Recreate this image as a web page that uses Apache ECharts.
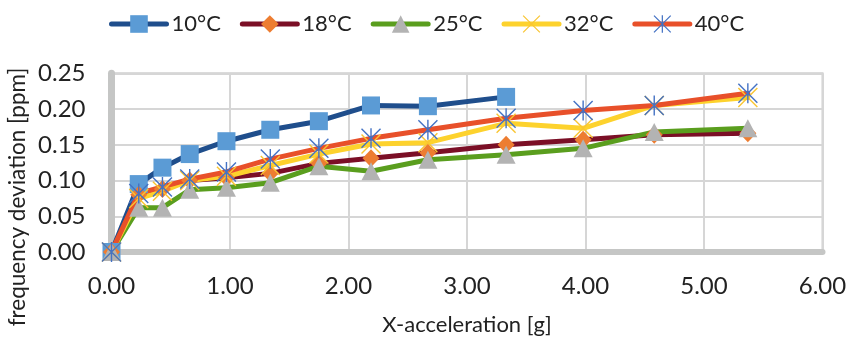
<!DOCTYPE html>
<html lang="en">
<head>
    <meta charset="UTF-8">
    <title>frequency deviation vs X-acceleration</title>
</head>
<body style="margin:0">
<div id="main" style="width:852px;height:341px;"></div>
<script src="https://cdn.jsdelivr.net/npm/echarts@6.0.0/dist/echarts.min.js"></script>
<script>
    // acceleration steps [g], shared by all temperatures
    var xData = [0, 0.23, 0.43, 0.66, 0.97, 1.34, 1.75, 2.19, 2.67, 3.33, 3.98, 4.58, 5.37];

    var names = ['10°C', '18°C', '25°C', '32°C', '40°C'];
    var y10 = [0, 0.095, 0.118, 0.137, 0.155, 0.171, 0.183, 0.205, 0.204, 0.217];
    var y18 = [0, 0.080, 0.088, 0.100, 0.104, 0.110, 0.124, 0.131, 0.139, 0.150, 0.157, 0.164, 0.166];
    var y25 = [0, 0.062, 0.062, 0.087, 0.090, 0.097, 0.120, 0.113, 0.129, 0.136, 0.145, 0.168, 0.173];
    var y32 = [0, 0.075, 0.085, 0.100, 0.106, 0.121, 0.137, 0.151, 0.153, 0.180, 0.173, 0.205, 0.216];
    var y40 = [0, 0.082, 0.091, 0.102, 0.112, 0.130, 0.145, 0.159, 0.171, 0.187, 0.198, 0.205, 0.222];

    var FONT = 'Lato';

    // excel style star (*) and cross (x) markers as thin filled bars
    var starPath = 'path://M9.3 0H10.7V20H9.3Z M0 1L1 0L20 19L19 20Z M19 0L20 1L1 20L0 19Z';
    var crossPath = 'path://M0 1L1 0L20 19L19 20Z M19 0L20 1L1 20L0 19Z';

    function pairs(ys) {
        var out = [];
        for (var i = 0; i < ys.length; i++) {
            out.push([xData[i], ys[i]]);
        }
        return out;
    }

    function makeSeries(name, ys, lineColor, symbol, size, markColor) {
        return {
            name: name,
            type: 'line',
            data: pairs(ys),
            symbol: symbol,
            symbolSize: size,
            showAllSymbol: true,
            lineStyle: {color: lineColor, width: 5, join: 'round', cap: 'round'},
            itemStyle: {color: markColor, borderWidth: 0},
            emphasis: {disabled: true}
        };
    }

    var chart = echarts.init(document.getElementById('main'));
    var option = {
        animation: false,
        textStyle: {fontFamily: FONT},
        legend: {
            top: 8,
            left: 104,
            itemWidth: 55,
            itemHeight: 22,
            itemGap: 19,
            lineStyle: {width: 5, cap: 'round'},
            textStyle: {fontSize: 22, color: '#222', fontFamily: FONT},
            data: names
        },
        grid: {
            left: 111.5,
            right: 29.5,
            top: 73.3,
            bottom: 89,
            outerBoundsMode: 'none',
            containLabel: false,
            show: true,
            borderColor: '#cfcfcf',
            borderWidth: 2
        },
        xAxis: {
            type: 'value',
            min: 0,
            max: 6,
            interval: 1,
            name: 'X-acceleration [g]',
            nameLocation: 'middle',
            nameGap: 62,
            nameTextStyle: {fontSize: 22, color: '#222', fontFamily: FONT},
            axisLine: {lineStyle: {color: '#c5c6c5', width: 6}},
            axisTick: {show: false},
            axisLabel: {
                fontSize: 24, color: '#222', margin: 22,
                formatter: function (v) { return v.toFixed(2); }
            },
            splitLine: {lineStyle: {color: '#d6d6d6', width: 2}}
        },
        yAxis: {
            type: 'value',
            min: 0,
            max: 0.25,
            interval: 0.05,
            axisLine: {show: true, lineStyle: {color: '#c5c6c5', width: 7}},
            axisTick: {show: false},
            axisLabel: {
                fontSize: 24, color: '#222', margin: 26,
                formatter: function (v) { return v.toFixed(2); }
            },
            splitLine: {lineStyle: {color: '#d6d6d6', width: 2}}
        },
        graphic: [{
            type: 'text',
            x: 18,
            y: 197,
            rotation: Math.PI / 2,
            style: {
                text: 'frequency deviation [ppm]',
                fontSize: 22.5,
                fontFamily: FONT,
                fill: '#222',
                align: 'center',
                verticalAlign: 'middle'
            }
        }],
        series: [
            makeSeries(names[0], y10, '#1f4e8c', 'rect', 18, '#5b9bd5'),
            makeSeries(names[1], y18, '#7b0f26', 'diamond', [17, 18], '#ed7d31'),
            makeSeries(names[2], y25, '#5a9e1e', 'triangle', [19, 18], '#b3b3b3'),
            makeSeries(names[3], y32, '#fdd22d', crossPath, 20, '#f9c532'),
            makeSeries(names[4], y40, '#e8502a', starPath, 20, '#4472c4')
        ]
    };
    chart.setOption(option);
</script>
</body>
</html>
